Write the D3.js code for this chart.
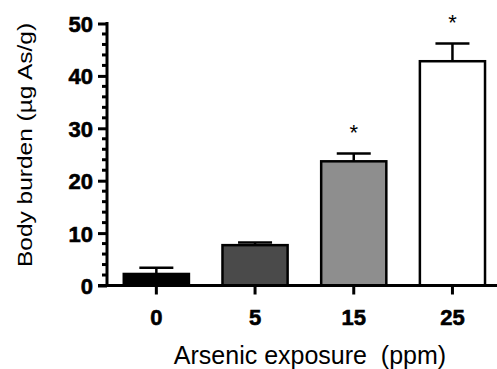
<!DOCTYPE html>
<html><head><meta charset="utf-8">
<script src="https://cdn.jsdelivr.net/npm/d3@7"></script>
<style>html,body{margin:0;padding:0;background:#fff;}svg{display:block;}</style>
</head><body>
<svg id="c" width="497" height="369"></svg>
<script>
const categories = ["0", "5", "15", "25"];
const means = [2.2, 7.7, 23.7, 42.8];
const errors = [1.2, 0.5, 1.5, 3.4];
const significant = [false, false, true, true];
const fills = ["#000000", "#4a4a4a", "#8e8e8e", "#ffffff"];
const yTicks = [0, 10, 20, 30, 40, 50];
const yTitle = "Body burden (\u00b5g As/g)";
const xTitle = "Arsenic exposure  (ppm)";

const FONT = "Liberation Sans, Arial, Helvetica, sans-serif";
const svg = d3.select("#c");
const x0 = 107, yBottom = 285.5, yTop = 23.5;
const x = d3.scaleBand().domain(categories).range([x0, x0 + 4 * 98.7]).paddingInner(0.34).paddingOuter(0.17);
const y = d3.scaleLinear().domain([0, 50]).range([yBottom, yTop]);

const g = svg.append("g");
const data = categories.map((c, i) => ({c, m: means[i], e: errors[i], s: significant[i], f: fills[i]}));
g.selectAll("rect.bar").data(data).enter().append("rect")
  .attr("x", d => x(d.c)).attr("width", x.bandwidth())
  .attr("y", d => y(d.m)).attr("height", d => y(0) - y(d.m))
  .attr("fill", d => d.f).attr("stroke", "#000").attr("stroke-width", 2.5);
const capW = 34;
const cx = d => x(d.c) + x.bandwidth() / 2;
g.selectAll("line.err").data(data).enter().append("line")
  .attr("x1", cx).attr("x2", cx)
  .attr("y1", d => y(d.m)).attr("y2", d => y(d.m + d.e))
  .attr("stroke", "#000").attr("stroke-width", 2.5);
g.selectAll("line.cap").data(data).enter().append("line")
  .attr("x1", d => cx(d) - capW / 2).attr("x2", d => cx(d) + capW / 2)
  .attr("y1", d => y(d.m + d.e)).attr("y2", d => y(d.m + d.e))
  .attr("stroke", "#000").attr("stroke-width", 2.5);
g.selectAll("text.star").data(data.filter(d => d.s)).enter().append("text")
  .attr("x", cx).attr("y", d => y(d.m + d.e) - 13)
  .attr("text-anchor", "middle").attr("font-family", FONT)
  .attr("font-size", 22).attr("fill", "#000").text("*");

// y axis
const yAxis = d3.axisLeft(y).tickValues(yTicks).tickSize(9).tickSizeOuter(0).tickPadding(5);
const ya = svg.append("g").attr("transform", `translate(${x0},0)`).call(yAxis);
ya.select(".domain").attr("stroke", "#000").attr("stroke-width", 3).attr("d", `M0,${yBottom + 1.5}V${yTop - 1.5}`);
ya.selectAll(".tick line").attr("stroke-width", 3);
ya.selectAll(".tick text").attr("font-family", FONT).attr("font-weight", "bold")
  .attr("font-size", 22).attr("fill", "#000").attr("stroke", "#000").attr("stroke-width", 0.6).attr("dy", "0.36em");
const minor = d3.range(0, 50.01, 2).filter(v => v % 10 !== 0);
svg.append("g").selectAll("line").data(minor).enter().append("line")
  .attr("x1", x0 - 5).attr("x2", x0).attr("y1", d => y(d)).attr("y2", d => y(d))
  .attr("stroke", "#000").attr("stroke-width", 3);

// x axis
const xAxis = d3.axisBottom(x).tickSize(9).tickSizeOuter(0).tickPadding(10);
const xa = svg.append("g").attr("transform", `translate(0,${yBottom})`).call(xAxis);
xa.select(".domain").attr("stroke", "#000").attr("stroke-width", 3).attr("d", `M${x0 - 9},0H497`);
xa.selectAll(".tick line").attr("stroke-width", 3);
xa.selectAll(".tick text").attr("font-family", FONT).attr("font-weight", "bold")
  .attr("font-size", 22).attr("fill", "#000").attr("stroke", "#000").attr("stroke-width", 0.6)
  .attr("y", 0).attr("dy", null).attr("transform", "translate(0,39)");

// titles
svg.append("text").attr("transform", "translate(32,145) rotate(-90) scale(1,0.85)").attr("text-anchor", "middle")
  .attr("font-family", FONT).attr("font-size", 24.5).attr("fill", "#000").text(yTitle);
svg.append("text").attr("x", 310).attr("y", 364).attr("text-anchor", "middle")
  .style("white-space", "pre")
  .attr("font-family", FONT).attr("font-size", 25).attr("fill", "#000").text(xTitle);
</script>
</body></html>
